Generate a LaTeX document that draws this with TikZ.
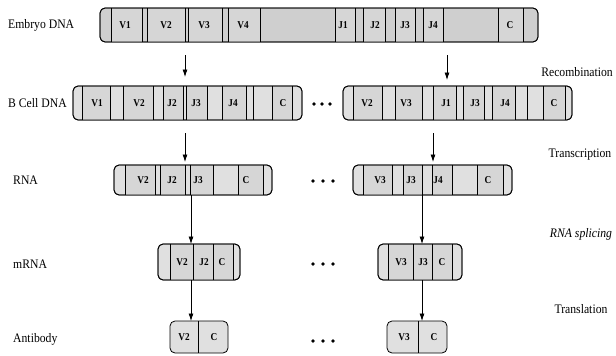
\documentclass[tikz,border=0pt]{standalone}
\usepackage{fontspec}
\setmainfont{Liberation Serif}
\newfontfamily\labfont[FakeStretch=0.9]{Liberation Serif}
\newfontfamily\genefont[FakeStretch=0.88]{Liberation Serif}
\usetikzlibrary{arrows.meta}

\tikzset{
  strand/.style={draw, line width=0.8pt, rounded corners=5pt, fill=gray!24,
    inner sep=0pt, outer sep=0pt},
  darkstrand/.style={strand, fill=gray!38},
  seg/.style={inner sep=0pt, outer sep=0pt, fill=gray!32},
  seglabel/.style={font=\genefont\bfseries\fontsize{10.5}{10.5}\selectfont, inner sep=0pt},
  rowlabel/.style={font=\labfont\fontsize{13}{13}\selectfont, anchor=west, inner sep=0pt},
  steplabel/.style={font=\labfont\fontsize{13}{13}\selectfont, inner sep=0pt},
  flow/.style={line width=0.75pt, -{Latex[length=7.5pt,width=5pt]}},
  gap/.style={circle, fill=black, inner sep=0pt, minimum size=3.8pt},
}

% gene segments of one strand: #1 prefix, #2 row centre, #3 height,
% #4 list of left/right/label x/label
\newcommand\genesegs[4]{%
  \foreach \l/\r/\t/\s in {#4}{%
    \node[seg, minimum width={\r-\l}, minimum height={#3-1}] (#1-\s-box) at ({(\l+\r)/2},#2) {};
    \draw[line width=0.7pt] (\l,{#2-#3/2}) -- (\l,{#2+#3/2}) (\r,{#2-#3/2}) -- (\r,{#2+#3/2});
    \node[seglabel] (#1-\s) at (\t,#2) {\s};
  }%
}
% single separating lines inside a strand
\newcommand\seplines[4]{%
  \foreach \x in {#4}{\draw[line width=0.7pt] (\x,{#2-#3/2}) -- (\x,{#2+#3/2});}%
}

\begin{document}
\begin{tikzpicture}[x=1pt, y=-1pt]
\useasboundingbox (0,0) rectangle (616,356);

% ---- row labels ----
\node[rowlabel] (lEmb) at (8,25) {Embryo DNA};
\node[rowlabel] (lBC)  at (8,103) {B Cell DNA};
\node[rowlabel] (lRNA) at (13,180) {RNA};
\node[rowlabel] (lmRNA) at (13,264) {mRNA};
\node[rowlabel] (lAb)  at (13,339) {Antibody};

% ---- process labels ----
\node[steplabel] (sRec)   at (577,72)  {Recombination};
\node[steplabel] (sTrans) at (580,155) {Transcription};
\node[steplabel] (sSpl)   at (581,234) {\itshape RNA splicing};
\node[steplabel] (sTl)    at (581,309) {Translation};

% ---- embryo DNA ----
\node[darkstrand, minimum width=438pt, minimum height=34pt] (emb) at (319,25) {};
\genesegs{e}{25}{34}{111/142/125/V1, 147/185/166/V2, 188/222/204/V3, 228/260/243/V4,
  335/355/343/J1, 363/385/375/J2, 395/415/405/J3, 423/443/433/J4, 498/523/510/C}
\draw[line width=0.8pt, rounded corners=5pt] (emb.north west) rectangle (emb.south east);

% ---- B cell DNA ----
\node[strand, minimum width=229pt, minimum height=34pt] (bl) at (187.5,103) {};
\genesegs{bl}{103}{34}{82/110/97/V1, 123/153/139/V2, 163/183/172/J2, 186/207/196/J3,
  222/246/233/J4, 272/292/283/C}
\seplines{bl}{103}{34}{253}
\draw[line width=0.8pt, rounded corners=5pt] (bl.north west) rectangle (bl.south east);

\node[strand, minimum width=229pt, minimum height=34pt] (br) at (457.5,103) {};
\genesegs{br}{103}{34}{353/382/367/V2, 395/422/406/V3, 433/456/446/J1, 463/484/475/J3,
  492/515/505/J4, 543/565/554/C}
\seplines{br}{103}{34}{527}
\draw[line width=0.8pt, rounded corners=5pt] (br.north west) rectangle (br.south east);

% ---- RNA ----
\node[strand, minimum width=158pt, minimum height=30pt] (rl) at (193,180) {};
\genesegs{rl}{180}{30}{125/155/143/V2, 160/185/172/J2, 190/213/198/J3, 238/263/246/C}
\draw[line width=0.8pt, rounded corners=5pt] (rl.north west) rectangle (rl.south east);

\node[strand, minimum width=159pt, minimum height=30pt] (rr) at (432.5,180) {};
\genesegs{rr}{180}{30}{363/392/380/V3, 403/422/411/J3, 432/452/438/J4, 477/503/488/C}
\draw[line width=0.8pt, rounded corners=5pt] (rr.north west) rectangle (rr.south east);

% ---- mRNA ----
\node[strand, minimum width=82pt, minimum height=36pt] (ml) at (199,262) {};
\genesegs{ml}{262}{36}{170/193/182/V2, 193/213/204/J2, 213/233/222/C}
\draw[line width=0.8pt, rounded corners=5pt] (ml.north west) rectangle (ml.south east);

\node[strand, minimum width=84pt, minimum height=36pt] (mr) at (420,262) {};
\genesegs{mr}{262}{36}{388/413/401/V3, 413/432/423/J3, 432/452/442/C}
\draw[line width=0.8pt, rounded corners=5pt] (mr.north west) rectangle (mr.south east);

% ---- antibody ----
\node[strand, minimum width=58pt, minimum height=32pt] (al) at (199,337) {};
\seplines{al}{337}{32}{198}
\node[seglabel] (al-V2) at (184,337) {V2};
\node[seglabel] (al-C)  at (214,337) {C};

\node[strand, minimum width=60pt, minimum height=32pt] (ar) at (417,337) {};
\seplines{ar}{337}{32}{418}
\node[seglabel] (ar-V3) at (404,337) {V3};
\node[seglabel] (ar-C)  at (434,337) {C};

% ---- continuation dots ----
\foreach \x [count=\i] in {314,322,330}{\node[gap] (d2-\i) at (\x,104) {};}
\foreach \x [count=\i] in {313,323,333}{\node[gap] (d3-\i) at (\x,181) {};}
\foreach \x [count=\i] in {313,323,333}{\node[gap] (d4-\i) at (\x,264) {};}
\foreach \x [count=\i] in {313,323,333}{\node[gap] (d5-\i) at (\x,341) {};}

% ---- arrows ----
\coordinate (xa) at (185,0);
\coordinate (xb) at (191,0);
\coordinate (xc) at (447,0);
\coordinate (xd) at (433,0);
\coordinate (xe) at (422,0);
\draw[flow, shorten <=13pt, shorten >=9pt] (emb.south -| xa) -- (bl.north -| xa);
\draw[flow, shorten <=13pt, shorten >=3pt] (bl.south -| xa) -- (rl.north -| xa);
\draw[flow] (rl.south -| xb) -- (ml.north -| xb);
\draw[flow] (ml.south -| xb) -- (al.north -| xb);
\draw[flow, shorten <=13pt, shorten >=6pt] (emb.south -| xc) -- (br.north -| xc);
\draw[flow, shorten <=13pt, shorten >=3pt] (br.south -| xd) -- (rr.north -| xd);
\draw[flow] (rr.south -| xe) -- (mr.north -| xe);
\draw[flow] (mr.south -| xe) -- (ar.north -| xe);
\end{tikzpicture}
\end{document}
